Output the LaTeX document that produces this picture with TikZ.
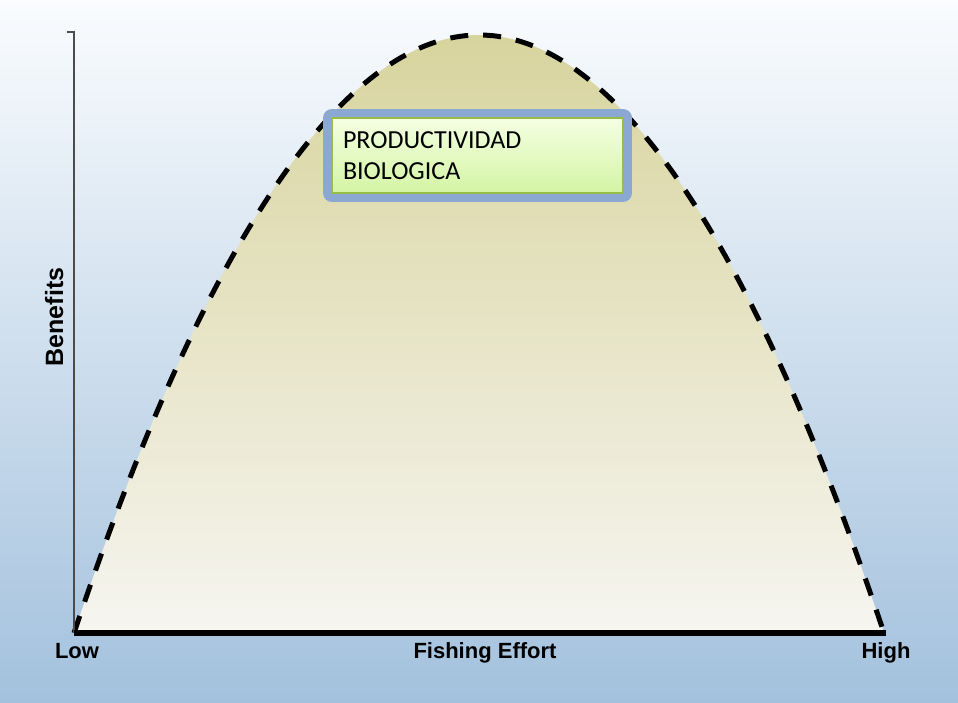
\documentclass[tikz,border=0pt]{standalone}
\usepackage{fontspec}
\setmainfont{Carlito}
\newfontfamily\labelfont{Liberation Sans}
\usetikzlibrary{shapes, calc, math}
\definecolor{skytop}{RGB}{250,252,254}
\definecolor{skybottom}{RGB}{163,193,221}
\definecolor{humptop}{RGB}{216,212,158}
\definecolor{humpbottom}{RGB}{246,245,240}
\definecolor{boxblue}{RGB}{138,168,210}
\definecolor{boxedge}{RGB}{150,190,70}
\definecolor{boxtop}{RGB}{244,255,226}
\definecolor{boxbottom}{RGB}{212,244,164}

\begin{document}
\begin{tikzpicture}[x=1pt, y=1pt,
  axislabel/.style={font=\labelfont\bfseries\fontsize{22}{26}\selectfont, inner sep=0pt},
  prodbox/.style={draw=boxedge, line width=1.2pt, top color=boxtop, bottom color=boxbottom,
    minimum width=291pt, minimum height=75pt, text width=269pt, inner xsep=11pt, align=left,
    font=\fontsize{26}{31}\selectfont,
    preaction={draw=boxblue, line width=18pt, line join=round}}]

\tikzmath{
  \xl = 74; \xr = 884; \base = 69;
  \xp = (\xl + \xr) / 2; \peak = 667;
}

% background
\shade[top color=skytop, bottom color=skybottom] (0,0) rectangle (958,702);
\useasboundingbox (0,0) rectangle (958,702);

% the hump
\shade[top color=humptop, bottom color=humpbottom] (\xl,\base) parabola bend (\xp,\peak) (\xr,\base) -- cycle;
\draw[line width=5pt, dash pattern=on 18pt off 15pt] (\xl,\base) parabola bend (\xp,\peak) (\xr,\base);

% axes
\coordinate (origin) at (\xl,\base);
\coordinate (ytop) at (\xl,670);
\coordinate (xend) at (886,\base);
\draw[line width=1.5pt, color=black!70] (origin) -- (ytop) -- ++(-7,0);
\draw[line width=6pt] (origin) -- (xend);

\node[axislabel, anchor=base] (low) at (77,44) {Low};
\node[axislabel, anchor=base] (effort) at (485,44) {Fishing Effort};
\node[axislabel, anchor=base] (high) at (886,44) {High};
\node[axislabel, anchor=base, rotate=90, font=\labelfont\bfseries\fontsize{25}{30}\selectfont] (benefits) at (63,385) {Benefits};

\node[prodbox] (prod) at (477.5,546.5) {PRODUCTIVIDAD\\BIOLOGICA};

\end{tikzpicture}
\end{document}
